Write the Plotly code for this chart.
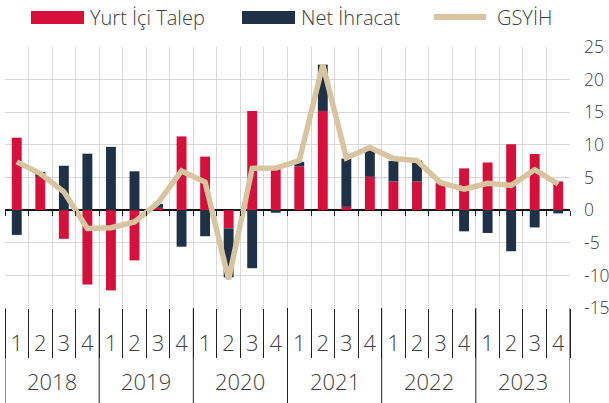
import plotly.graph_objects as go

years = ["2018", "2019", "2020", "2021", "2022", "2023"]
quarters = ["1", "2", "3", "4"]

yurt_ici_talep = [11.1, 5.1, -4.4, -11.4, -12.3, -7.7, 0.35, 11.3,
                  8.2, -2.8, 15.2, 6.6, 6.7, 15.2, 0.5, 5.1,
                  4.4, 4.4, 4.0, 6.4, 7.3, 10.1, 8.6, 4.4]
net_ihracat = [-3.8, 0.75, 6.8, 8.65, 9.7, 5.95, 0.6, -5.6,
               -4.0, -7.5, -8.9, -0.4, 0.7, 7.1, 7.4, 4.45,
               3.15, 3.2, 0.1, -3.25, -3.5, -6.3, -2.65, -0.5]
gsyih = [7.4, 5.6, 2.8, -2.8, -2.7, -1.8, 1.1, 6.0,
         4.3, -10.6, 6.4, 6.45, 7.6, 22.3, 8.0, 9.6,
         7.9, 7.6, 4.2, 3.2, 4.1, 3.8, 6.2, 4.0]
y_ticks = [-15, -10, -5, 0, 5, 10, 15, 20, 25]
y_tick_text = ["-15", "-10", "-5", "0", "5", "10", "15", "20", "25"]

RED = "#D6103A"
NAVY = "#1F3147"
BEIGE = "#D8C49E"
TXT = "#404040"
GRID = "#D9D9D9"
DARK = "#222222"

cats = [f"{y}-{q}" for y in years for q in quarters]
qlabels = [q for _ in years for q in quarters]
nq = len(quarters)
n = len(cats)

fig = go.Figure()
fig.add_trace(go.Bar(x=cats, y=yurt_ici_talep, name="Yurt İçi Talep",
                     marker=dict(color=RED, line=dict(width=0)), hoverinfo="skip"))
fig.add_trace(go.Bar(x=cats, y=net_ihracat, name="Net İhracat",
                     marker=dict(color=NAVY, line=dict(width=0)), hoverinfo="skip"))
fig.add_trace(go.Scatter(x=cats, y=gsyih, name="GSYİH", mode="lines",
                         line=dict(color=BEIGE, width=5.5), xaxis="x2", yaxis="y",
                         hoverinfo="skip"))

W, H = 609, 403
L, R, T, B = 5, 39, 47, 95
pw, ph = W - L - R, H - T - B

def px(xp):
    return (xp - L) / pw

def py(yp):
    return (H - B - yp) / ph

shapes = [
    dict(type="rect", xref="paper", yref="paper", x0=px(31), x1=px(84), y0=py(24), y1=py(11),
         fillcolor=RED, line=dict(width=0)),
    dict(type="rect", xref="paper", yref="paper", x0=px(242), x1=px(295), y0=py(24), y1=py(11),
         fillcolor=NAVY, line=dict(width=0)),
    dict(type="line", xref="paper", yref="paper", x0=px(434), x1=px(486), y0=py(17), y1=py(17),
         line=dict(color=BEIGE, width=6)),
]
# year dividers across the label area
for i in range(len(years) + 1):
    shapes.append(dict(type="line", xref="x", yref="paper", x0=i * nq - 0.5, x1=i * nq - 0.5,
                       y0=0, y1=py(H), line=dict(color=DARK, width=1)))

annotations = [
    dict(text=t, xref="paper", yref="paper", x=px(x0), y=py(18), xanchor="left", yanchor="middle",
         showarrow=False, font=dict(size=20, color=TXT))
    for t, x0 in [("Yurt İçi Talep", 88), ("Net İhracat", 299), ("GSYİH", 495)]
]
for i, yr in enumerate(years):
    annotations.append(dict(text=yr, xref="x", yref="paper", x=i * nq + (nq - 1) / 2, y=py(381),
                            xanchor="center", yanchor="middle", showarrow=False,
                            font=dict(size=22, color=TXT)))

zero_frac = (0 - y_ticks[0]) / (y_ticks[-1] - y_ticks[0])
xrange = [-0.5, n - 0.5]

fig.update_layout(
    width=W, height=H,
    margin=dict(l=L, r=R, t=T, b=B, autoexpand=False),
    paper_bgcolor="white", plot_bgcolor="white",
    font=dict(family="Open Sans", color=TXT, weight=300),
    barmode="relative", bargap=0.58,
    showlegend=False, hovermode=False,
    shapes=shapes, annotations=annotations,
    xaxis=dict(type="category", range=xrange, autorange=False,
               tickmode="array", tickvals=cats, ticktext=qlabels,
               tickson="boundaries", ticks="outside", ticklen=49,
               tickcolor=DARK, tickwidth=1, showgrid=True, gridcolor=GRID, gridwidth=1,
               ticklabelstandoff=20, automargin=False,
               tickfont=dict(size=22, color=TXT), showline=False, zeroline=False),
    xaxis2=dict(type="category", overlaying="x", matches="x", anchor="free", position=zero_frac,
                tickson="boundaries", ticks="outside", ticklen=5, tickcolor=DARK, tickwidth=1,
                tickmode="array", tickvals=cats, automargin=False,
                showticklabels=False, showgrid=False, showline=False, zeroline=False),
    yaxis=dict(side="right", range=[y_ticks[0], y_ticks[-1]], tickvals=y_ticks, ticktext=y_tick_text,
               showgrid=True, gridcolor=GRID, gridwidth=1, automargin=False,
               zeroline=True, zerolinecolor="#111111", zerolinewidth=1.5,
               tickfont=dict(size=17.5, color=TXT), ticklabelstandoff=13, showline=False),
)

fig.write_html("out.html", config={"displayModeBar": False, "staticPlot": True},
               post_script="document.body.style.margin='0';")
